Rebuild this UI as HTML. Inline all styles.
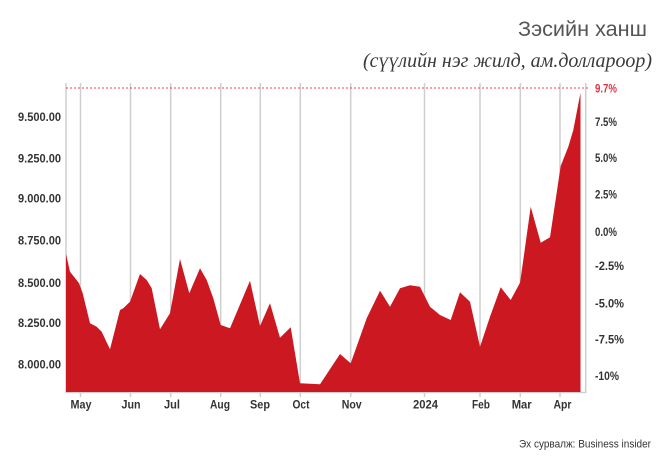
<!DOCTYPE html>
<html>
<head>
<meta charset="utf-8">
<style>
  html,body{margin:0;padding:0;background:#fff;}
  svg{display:block;}
  .ax{font-family:"Liberation Sans Narrow","Liberation Sans",sans-serif;font-size:12px;font-weight:bold;fill:#333;}
</style>
</head>
<body>
<svg width="660" height="459" viewBox="0 0 660 459" xmlns="http://www.w3.org/2000/svg">
  <rect width="660" height="459" fill="#fff"/>
  <!-- titles -->
  <text x="647" y="36" text-anchor="end" font-family="Liberation Sans, sans-serif" font-size="21" fill="#555" textLength="129" lengthAdjust="spacingAndGlyphs">Зэсийн ханш</text>
  <text x="652" y="67" text-anchor="end" font-family="Liberation Serif, serif" font-style="italic" font-size="20" fill="#3a3a3a" textLength="289" lengthAdjust="spacingAndGlyphs">(сүүлийн нэг жилд, ам.доллароор)</text>

  <!-- vertical grid lines -->
  <g stroke="#cfcfcf" stroke-width="1.5">
    <line x1="66" y1="83" x2="66" y2="393"/>
    <line x1="80.5" y1="83" x2="80.5" y2="397"/>
    <line x1="130.5" y1="83" x2="130.5" y2="397"/>
    <line x1="170.7" y1="83" x2="170.7" y2="397"/>
    <line x1="220.7" y1="83" x2="220.7" y2="397"/>
    <line x1="260.3" y1="83" x2="260.3" y2="397"/>
    <line x1="300.3" y1="83" x2="300.3" y2="397"/>
    <line x1="350.7" y1="83" x2="350.7" y2="397"/>
    <line x1="424.5" y1="83" x2="424.5" y2="397"/>
    <line x1="480" y1="83" x2="480" y2="397"/>
    <line x1="520.3" y1="83" x2="520.3" y2="397"/>
    <line x1="560" y1="83" x2="560" y2="397"/>
    <line x1="585.7" y1="83" x2="585.7" y2="393"/>
    <line x1="66" y1="392.5" x2="586" y2="392.5"/>
  </g>

  <!-- dotted red reference line -->
  <line x1="66" y1="88" x2="589" y2="88" stroke="#e8434f" stroke-width="1" stroke-dasharray="2,2"/>

  <!-- area -->
  <polygon fill="#cc1820" points="
    66,392 66,254 70,271.7 75,278 79,283.3 82.7,293.3 90,323.3 96.7,326.7 101.7,331.7 110,349.3
    120,310 123.3,308.3 130,301.7 140,274 146.7,280 151.7,288.3 160,329.3 170,313.3 180,259
    189.3,293.3 200,268.3 206.7,280 213.3,298.3 220.7,325 230,328.3 250,280.7 260,326 270,303.3
    280,337.7 290.7,327.3 300,383.3 320,384.3 340,354 350.7,363.3 366.7,318.3 380,290.7 390,306.7
    400,288.3 410,285.3 420,286.7 430,306.7 440,315 450.7,320 460,292.3 470,301.7 480,346.7
    490,316.7 500.7,287.3 510.7,300 520,282.7 523.3,260 530.7,206.7 540.7,242.7 550,237.3
    560.7,166 568.3,146.7 573.3,130 580.5,92.7 580.5,392"/>

  <!-- left axis labels -->
  <g class="ax" text-anchor="end">
    <text x="61" y="121" textLength="43" lengthAdjust="spacingAndGlyphs">9.500.00</text>
    <text x="61" y="162.3" textLength="43" lengthAdjust="spacingAndGlyphs">9.250.00</text>
    <text x="61" y="202.5" textLength="43" lengthAdjust="spacingAndGlyphs">9.000.00</text>
    <text x="61" y="244.3" textLength="43" lengthAdjust="spacingAndGlyphs">8.750.00</text>
    <text x="61" y="287" textLength="43" lengthAdjust="spacingAndGlyphs">8.500.00</text>
    <text x="61" y="327" textLength="43" lengthAdjust="spacingAndGlyphs">8.250.00</text>
    <text x="61" y="368.3" textLength="43" lengthAdjust="spacingAndGlyphs">8.000.00</text>
  </g>

  <!-- right axis labels -->
  <g class="ax">
    <text x="595" y="92.3" fill="#e03444" style="fill:#e03444" textLength="22" lengthAdjust="spacingAndGlyphs">9.7%</text>
    <text x="595" y="126" textLength="22" lengthAdjust="spacingAndGlyphs">7.5%</text>
    <text x="595" y="162" textLength="22" lengthAdjust="spacingAndGlyphs">5.0%</text>
    <text x="595" y="198.6" textLength="22" lengthAdjust="spacingAndGlyphs">2.5%</text>
    <text x="595" y="236" textLength="22" lengthAdjust="spacingAndGlyphs">0.0%</text>
    <text x="595" y="270" textLength="29" lengthAdjust="spacingAndGlyphs">-2.5%</text>
    <text x="595" y="307.6" textLength="29" lengthAdjust="spacingAndGlyphs">-5.0%</text>
    <text x="595" y="343.6" textLength="29" lengthAdjust="spacingAndGlyphs">-7.5%</text>
    <text x="595" y="380" textLength="24" lengthAdjust="spacingAndGlyphs">-10%</text>
  </g>

  <!-- month labels -->
  <g class="ax" text-anchor="middle">
    <text x="81" y="408.5" textLength="21" lengthAdjust="spacingAndGlyphs">May</text>
    <text x="131" y="408.5" textLength="19" lengthAdjust="spacingAndGlyphs">Jun</text>
    <text x="172" y="408.5" textLength="16" lengthAdjust="spacingAndGlyphs">Jul</text>
    <text x="220" y="408.5" textLength="20" lengthAdjust="spacingAndGlyphs">Aug</text>
    <text x="260" y="408.5" textLength="20" lengthAdjust="spacingAndGlyphs">Sep</text>
    <text x="301" y="408.5" textLength="17" lengthAdjust="spacingAndGlyphs">Oct</text>
    <text x="351.7" y="408.5" textLength="20" lengthAdjust="spacingAndGlyphs">Nov</text>
    <text x="425.5" y="408.5" textLength="25" lengthAdjust="spacingAndGlyphs">2024</text>
    <text x="481" y="408.5" textLength="18" lengthAdjust="spacingAndGlyphs">Feb</text>
    <text x="521.7" y="408.5" textLength="20" lengthAdjust="spacingAndGlyphs">Mar</text>
    <text x="562.5" y="408.5" textLength="18" lengthAdjust="spacingAndGlyphs">Apr</text>
  </g>

  <!-- source -->
  <text x="651" y="447.5" text-anchor="end" font-family="Liberation Sans, sans-serif" font-size="11" fill="#333" textLength="132" lengthAdjust="spacingAndGlyphs">Эх сурвалж: Business insider</text>
</svg>
</body>
</html>
